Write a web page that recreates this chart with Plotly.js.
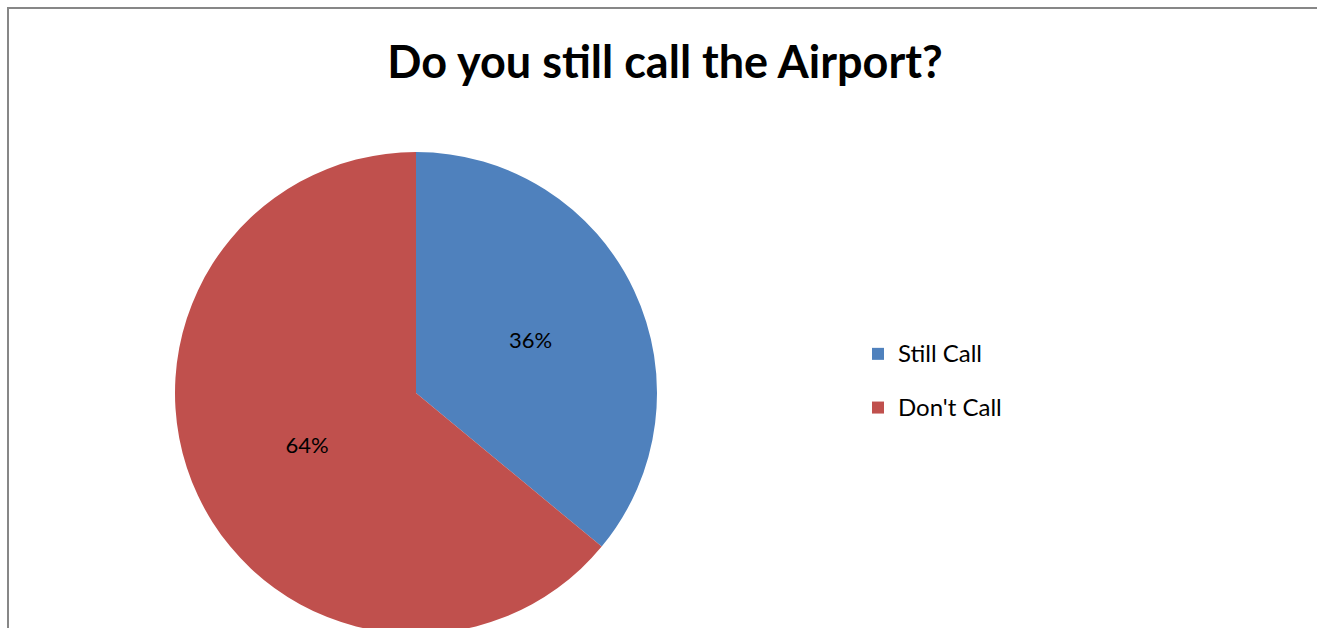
<!DOCTYPE html>
<html>
<head>
<meta charset="utf-8">
<script src="https://cdn.plot.ly/plotly-3.0.1.min.js"></script>
<style>
html, body { margin: 0; padding: 0; overflow: hidden; background: #fff; }
#chart { width: 1317px; height: 640px; }
</style>
</head>
<body>
<div id="chart"></div>
<script>
const chartTitle = "Do you still call the Airport?";
const categories = ["Still Call", "Don't Call"];
const shares = [36, 64];
const sliceColors = ["#4F81BD", "#C0504D"];

const W = 1317, H = 640;

const trace = {
  type: "pie",
  labels: categories.map(c => '<span style="font-size:24px;baseline-shift:7px">' + c + '</span>'),
  values: shares,
  sort: false,
  direction: "clockwise",
  rotation: 0,
  marker: { colors: sliceColors, line: { width: 0 } },
  textinfo: "percent",
  textposition: "inside",
  insidetextorientation: "horizontal",
  textfont: { family: "Lato, 'Liberation Sans', sans-serif", size: 22, color: "#000" },
  hoverinfo: "label+percent",
  domain: { x: [175 / W, 657 / W], y: [1 - 634 / H, 1 - 152 / H] }
};

const layout = {
  width: W,
  height: H,
  margin: { l: 0, r: 0, t: 0, b: 0 },
  paper_bgcolor: "#fff",
  title: {
    text: "<b>" + chartTitle + "</b>",
    font: { family: "Lato, 'Liberation Sans', sans-serif", size: 45, color: "#000" },
    x: 665 / W, xanchor: "center", xref: "paper",
    y: 1 - 62 / H, yanchor: "middle", yref: "paper"
  },
  showlegend: true,
  legend: {
    x: 858 / W, xanchor: "left",
    y: 1 - 381 / H, yanchor: "middle",
    font: { family: "Lato, 'Liberation Sans', sans-serif", size: 39, color: "#000" },
    bgcolor: "rgba(0,0,0,0)"
  },
  shapes: [{
    type: "rect", xref: "paper", yref: "paper",
    x0: 8 / W, x1: 1.05, y0: -0.1, y1: 1 - 8 / H,
    line: { color: "#878787", width: 2 }, fillcolor: "rgba(0,0,0,0)", layer: "below"
  }]
};

Plotly.newPlot("chart", [trace], layout, { displayModeBar: false, staticPlot: true });
</script>
</body>
</html>
